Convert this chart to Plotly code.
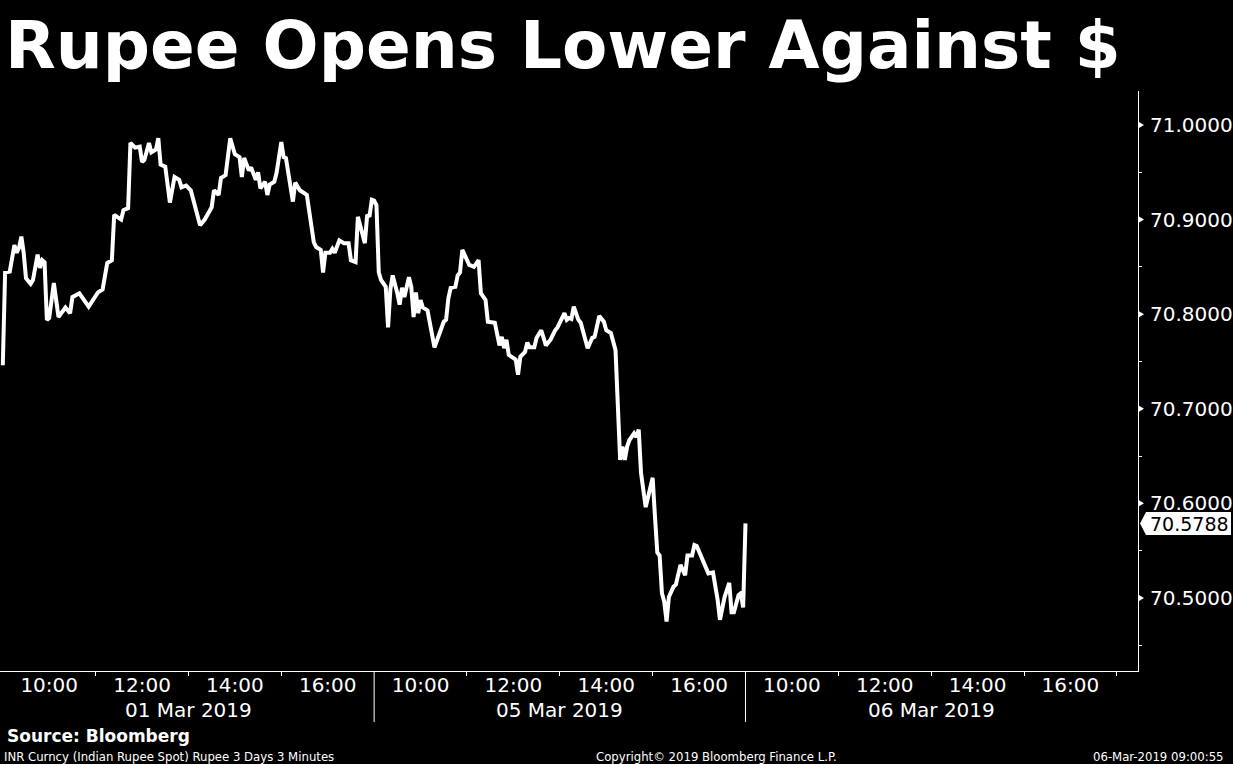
import plotly.graph_objects as go

# ---------------- data ----------------
title_text = "Rupee Opens Lower Against $"
day_labels = ["01 Mar 2019", "05 Mar 2019", "06 Mar 2019"]
hour_labels = ["10:00", "12:00", "14:00", "16:00"]

day1_times = ["09:00", "09:03", "09:09", "09:15", "09:18", "09:21", "09:24", "09:27", "09:30", "09:36",
              "09:39", "09:45", "09:48", "09:51", "09:54", "09:57", "10:00", "10:06", "10:12", "10:18",
              "10:21", "10:27", "10:30", "10:39", "10:51", "11:03", "11:09", "11:15", "11:21", "11:24",
              "11:33", "11:36", "11:42", "11:45", "11:51", "11:57", "12:00", "12:03", "12:09", "12:12",
              "12:18", "12:21", "12:24", "12:30", "12:36", "12:42", "12:48", "12:51", "12:57", "13:03",
              "13:15", "13:21", "13:30", "13:33", "13:39", "13:42", "13:48", "13:54", "14:00", "14:06",
              "14:09", "14:12", "14:18", "14:21", "14:27", "14:30", "14:33", "14:39", "14:42", "14:45",
              "14:51", "14:54", "15:00", "15:03", "15:06", "15:15", "15:18", "15:24", "15:33", "15:42",
              "15:45", "15:51", "15:54", "15:57", "16:03", "16:06", "16:09", "16:15", "16:21", "16:27",
              "16:30", "16:36", "16:39", "16:48", "16:51", "16:54", "16:57"]
day1_values = [70.746, 70.844, 70.845, 70.873, 70.865, 70.870, 70.882, 70.865, 70.838, 70.832,
               70.836, 70.863, 70.849, 70.857, 70.855, 70.794, 70.796, 70.833, 70.797, 70.805,
               70.807, 70.801, 70.818, 70.822, 70.808, 70.823, 70.826, 70.854, 70.857, 70.905,
               70.900, 70.910, 70.912, 70.981, 70.976, 70.977, 70.961, 70.963, 70.981, 70.971,
               70.974, 70.986, 70.958, 70.956, 70.918, 70.945, 70.942, 70.934, 70.936, 70.931,
               70.894, 70.900, 70.913, 70.931, 70.926, 70.944, 70.947, 70.986, 70.969, 70.966,
               70.945, 70.965, 70.952, 70.955, 70.942, 70.950, 70.933, 70.940, 70.926, 70.937,
               70.940, 70.950, 70.982, 70.966, 70.965, 70.919, 70.939, 70.931, 70.926, 70.876,
               70.871, 70.868, 70.844, 70.865, 70.865, 70.869, 70.865, 70.878, 70.875, 70.875,
               70.857, 70.855, 70.903, 70.875, 70.905, 70.903, 70.921]

day2_times = ["09:00", "09:03", "09:06", "09:09", "09:15", "09:18", "09:21", "09:24", "09:30", "09:33",
              "09:36", "09:39", "09:45", "09:48", "09:51", "09:54", "09:57", "10:00", "10:03", "10:09",
              "10:18", "10:24", "10:30", "10:33", "10:36", "10:39", "10:45", "10:48", "10:51", "10:54",
              "10:57", "11:03", "11:09", "11:15", "11:18", "11:24", "11:27", "11:33", "11:36", "11:42",
              "11:45", "11:48", "11:51", "11:54", "12:03", "12:06", "12:09", "12:15", "12:18", "12:21",
              "12:27", "12:30", "12:36", "12:42", "12:48", "12:54", "12:57", "13:06", "13:09", "13:12",
              "13:15", "13:18", "13:24", "13:27", "13:33", "13:36", "13:42", "13:45", "13:51", "13:57",
              "14:00", "14:06", "14:12", "14:15", "14:18", "14:21", "14:24", "14:27", "14:30", "14:36",
              "14:39", "14:42", "14:45", "14:51", "15:00", "15:03", "15:06", "15:09", "15:12", "15:15",
              "15:18", "15:21", "15:27", "15:30", "15:36", "15:42", "15:45", "15:51", "15:54", "15:57",
              "16:03", "16:06", "16:12", "16:18", "16:24", "16:27", "16:33", "16:39", "16:42", "16:45",
              "16:51", "16:54", "16:57"]
day2_values = [70.920, 70.915, 70.844, 70.836, 70.829, 70.786, 70.826, 70.841, 70.822, 70.810,
               70.828, 70.818, 70.839, 70.829, 70.797, 70.823, 70.801, 70.815, 70.807, 70.804,
               70.765, 70.780, 70.792, 70.794, 70.817, 70.828, 70.829, 70.841, 70.844, 70.868,
               70.863, 70.852, 70.850, 70.857, 70.822, 70.815, 70.792, 70.791, 70.791, 70.767,
               70.776, 70.764, 70.773, 70.757, 70.752, 70.736, 70.755, 70.760, 70.770, 70.765,
               70.765, 70.775, 70.783, 70.767, 70.773, 70.783, 70.786, 70.801, 70.794, 70.796,
               70.795, 70.808, 70.794, 70.791, 70.770, 70.764, 70.775, 70.776, 70.798, 70.792,
               70.783, 70.780, 70.762, 70.709, 70.646, 70.660, 70.646, 70.660, 70.667, 70.674,
               70.670, 70.678, 70.632, 70.596, 70.627, 70.586, 70.548, 70.545, 70.505, 70.496,
               70.475, 70.501, 70.512, 70.514, 70.535, 70.524, 70.545, 70.545, 70.556, 70.555,
               70.543, 70.538, 70.526, 70.527, 70.498, 70.477, 70.501, 70.516, 70.485, 70.485,
               70.503, 70.505, 70.490]

day3_times = ["09:00"]
day3_values = [70.5788]

last_price = 70.5788
y_tick_vals = [70.5, 70.6, 70.7, 70.8, 70.9, 71.0]
y_minor_vals = [70.45, 70.55, 70.65, 70.75, 70.85, 70.95]

source_text = "Source: Bloomberg"
footer_left = "INR Curncy (Indian Rupee Spot) Rupee 3 Days 3 Minutes"
footer_mid = "Copyright\u00a9 2019 Bloomberg Finance L.P."
footer_right = "06-Mar-2019 09:00:55"

# ------------- compressed session time scale -------------
SESSION_OPEN = 9.0
SESSION_LEN = 8.0


def session_x(day_idx, hhmm):
    h, m = hhmm.split(":")
    return day_idx * SESSION_LEN + int(h) + int(m) / 60.0 - SESSION_OPEN


xs, ys = [], []
for d, (tt, vv) in enumerate([(day1_times, day1_values), (day2_times, day2_values), (day3_times, day3_values)]):
    for t, v in zip(tt, vv):
        xs.append(session_x(d, t))
        ys.append(v)

X_MAX = 24.516
Y_RANGE = [70.4228, 71.0359]

fig = go.Figure()
fig.add_trace(go.Scatter(x=xs, y=ys, mode="lines",
                         line=dict(color="white", width=4), hoverinfo="skip", showlegend=False))

major_x = [d * SESSION_LEN + (int(l[:2]) - SESSION_OPEN) for d in range(3) for l in hour_labels]
major_text = [l for d in range(3) for l in hour_labels]
minor_x = [d * SESSION_LEN + k for d in range(3) for k in (2, 4, 6, 8) if not (k == 8 and d < 2)]

font_main = "DejaVu Sans"

fig.update_layout(
    width=1233, height=764,
    paper_bgcolor="black", plot_bgcolor="black",
    margin=dict(l=0, r=93, t=91, b=93),
    showlegend=False,
    xaxis=dict(range=[-0.06, X_MAX - 0.06], showgrid=False, zeroline=False, showline=True,
               linecolor="white", linewidth=1,
               tickmode="array", tickvals=major_x, ticktext=major_text,
               ticks="", ticklabelstandoff=-4,
               tickfont=dict(family=font_main, size=20, color="white"),
               minor=dict(tickmode="array", tickvals=minor_x, ticks="outside",
                          ticklen=4, tickwidth=1, tickcolor="white")),
    yaxis=dict(range=Y_RANGE, side="right", showgrid=False, zeroline=False, showline=True,
               linecolor="white", linewidth=1,
               tickmode="array", tickvals=y_tick_vals, ticktext=["%.4f" % v for v in y_tick_vals],
               ticks="outside", ticklen=7, tickcolor="rgba(0,0,0,0)",
               tickfont=dict(family=font_main, size=20, color="white"),
               minor=dict(tickmode="array", tickvals=y_minor_vals, ticks="outside",
                          ticklen=3, tickwidth=1, tickcolor="white")),
)

shapes = []
# day separators
for d in (1, 2):
    shapes.append(dict(type="line", xref="x", yref="paper", x0=d * SESSION_LEN, x1=d * SESSION_LEN,
                       y0=0, y1=-0.088, line=dict(color="white", width=1)))
# labelled tick markers (small triangles)
for v in y_tick_vals:
    shapes.append(dict(type="path", xref="paper", yref="y", xsizemode="pixel", ysizemode="pixel",
                       xanchor=1, yanchor=v, path="M 1,-3 L 6,0 L 1,3 Z",
                       fillcolor="white", line=dict(width=0)))
# last price tag
shapes.append(dict(type="path", xref="paper", yref="y", xsizemode="pixel", ysizemode="pixel",
                   xanchor=1, yanchor=last_price, path="M 2,0 L 8,-11.5 L 93,-11.5 L 93,11.5 L 8,11.5 Z",
                   fillcolor="white", line=dict(width=0)))
fig.update_layout(shapes=shapes)

ann = []
ann.append(dict(text=title_text, xref="paper", yref="paper", x=0, y=1.0793, xanchor="left",
                yanchor="middle", xshift=3, showarrow=False,
                font=dict(family=font_main, size=66, color="white", weight="bold")))
for d, lab in enumerate(day_labels):
    ann.append(dict(text=lab, xref="x", yref="paper", x=d * SESSION_LEN + SESSION_LEN / 2, y=-0.068,
                    xanchor="center", yanchor="middle", showarrow=False,
                    font=dict(family=font_main, size=20, color="white")))
ann.append(dict(text="%.4f" % last_price, xref="paper", yref="y", x=1, y=last_price, xanchor="left",
                yanchor="middle", xshift=11, yshift=-1, showarrow=False, borderpad=0,
                font=dict(family=font_main, size=19, color="black")))
ann.append(dict(text=source_text, xref="paper", yref="paper", x=0, y=-0.112, xanchor="left",
                yanchor="middle", xshift=5, showarrow=False,
                font=dict(family=font_main, size=17, color="white", weight="bold")))
ann.append(dict(text=footer_left, xref="paper", yref="paper", x=0, y=-0.1466, xanchor="left",
                yanchor="middle", xshift=2, showarrow=False,
                font=dict(family="DejaVu Sans Condensed", size=13, color="white")))
ann.append(dict(text=footer_mid, xref="paper", yref="paper", x=718 / 1140, y=-0.1466, xanchor="center",
                yanchor="middle", showarrow=False,
                font=dict(family="DejaVu Sans Condensed", size=13, color="white")))
ann.append(dict(text=footer_right, xref="paper", yref="paper", x=1228 / 1140, y=-0.1466, xanchor="right",
                yanchor="middle", showarrow=False,
                font=dict(family="DejaVu Sans Condensed", size=13, color="white")))
fig.update_layout(annotations=ann)

fig.write_html("out.html", config={"displayModeBar": False},
               post_script="document.body.style.margin='0px';document.body.style.overflow='hidden';")
